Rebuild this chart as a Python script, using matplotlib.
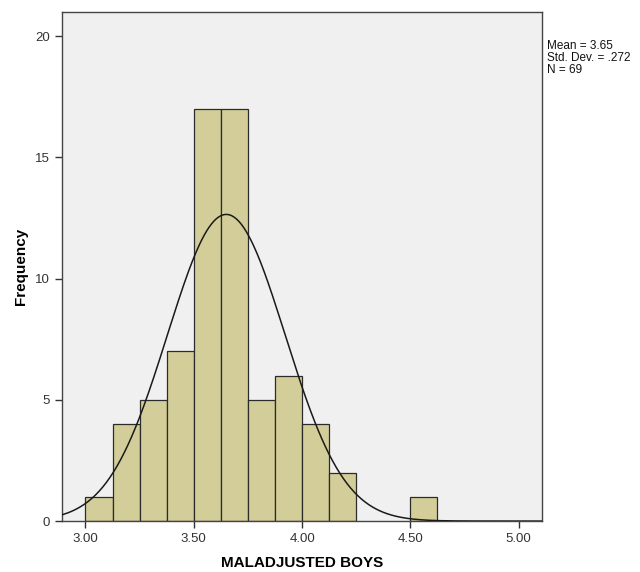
import numpy as np
import matplotlib
matplotlib.use("Agg")
import matplotlib.pyplot as plt

plt.rcParams['font.family'] = ['Liberation Sans', 'DejaVu Sans']

# histogram bins (width 0.125) and counts
bin_left = [3.000, 3.125, 3.250, 3.375, 3.500, 3.625, 3.750, 3.875, 4.000, 4.125, 4.500]
counts = [1, 4, 5, 7, 17, 17, 5, 6, 4, 2, 1]
bin_width = 0.125

mean = 3.65
sd = 0.272
n = 69

fig = plt.figure(figsize=(6.4, 5.72), dpi=100)
ax = fig.add_axes([0.097, 0.089, 0.75, 0.89])
ax.set_facecolor('#f0f0f0')

ax.bar(bin_left, counts, width=bin_width, align='edge',
       color='#d3ce99', edgecolor='#2b2b2b', linewidth=0.9, zorder=2)

# normal curve scaled to the histogram
xs = np.linspace(2.892, 5.108, 400)
ys = n * bin_width * np.exp(-0.5 * ((xs - mean) / sd) ** 2) / (sd * np.sqrt(2 * np.pi))
ax.plot(xs, ys, color='#1a1a1a', linewidth=1.1, zorder=3)

ax.set_xlim(2.892, 5.108)
ax.set_ylim(0, 21)
ax.set_xticks([3.0, 3.5, 4.0, 4.5, 5.0])
ax.set_xticklabels(['3.00', '3.50', '4.00', '4.50', '5.00'])
ax.set_yticks([0, 5, 10, 15, 20])
ax.tick_params(axis='both', direction='out', length=5, width=1,
               color='#333333', labelsize=9.5, labelcolor='#333333')
for s in ax.spines.values():
    s.set_color('#444444')
    s.set_linewidth(1)

ax.set_xlabel('MALADJUSTED BOYS', fontsize=11, fontweight='bold', labelpad=8)
ax.set_ylabel('Frequency', fontsize=11, fontweight='bold', labelpad=5)

fig.text(0.855, 0.93, 'Mean = 3.65\nStd. Dev. = .272\nN = 69',
         fontsize=8.5, va='top', ha='left', linespacing=1.0, color='#111111')

fig.savefig('out.png', dpi=100, facecolor='white')
